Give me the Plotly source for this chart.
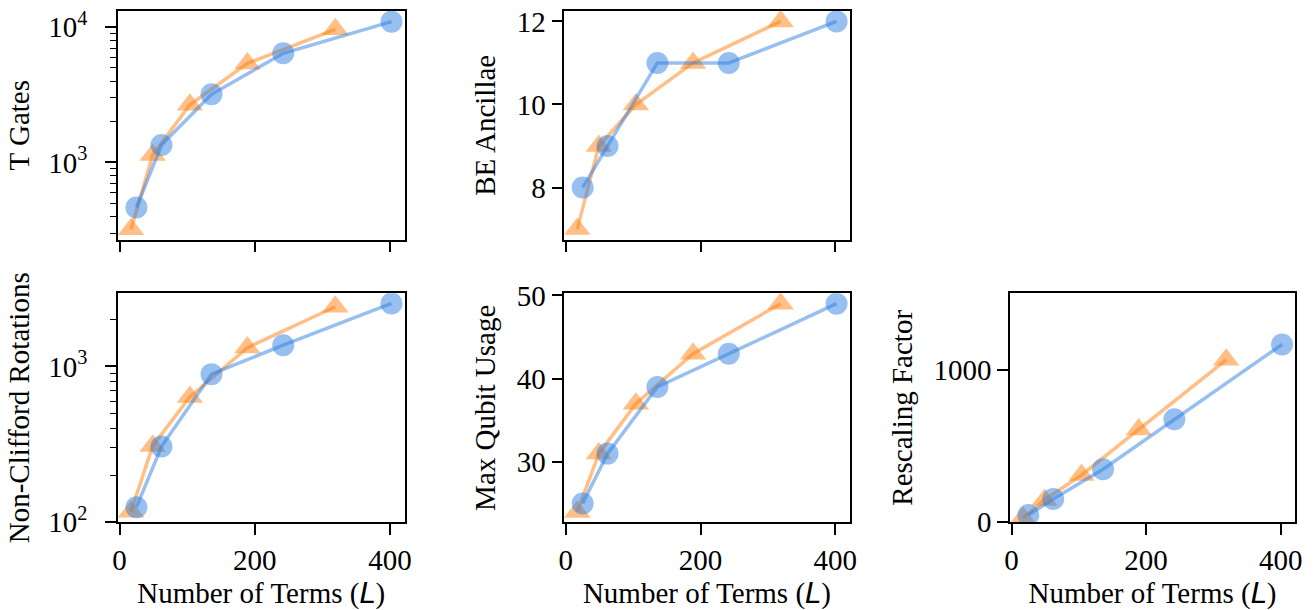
import plotly.graph_objects as go

# ---- data ----
x_blue = [25, 62, 136, 242, 402]
x_orange = [17, 49, 104, 189, 319]

tgates_blue = [464, 1344, 3190, 6410, 11000]
tgates_orange = [320, 1133, 2670, 5400, 9660]

be_blue = [8, 9, 11, 11, 12]
be_orange = [7, 9, 10, 11, 12]

rot_blue = [125, 306, 892, 1368, 2535]
rot_orange = [117, 309, 637, 1320, 2415]

qubit_blue = [25, 31, 39, 43, 49]
qubit_orange = [24, 31, 37, 43, 49]

rescale_blue = [48, 152, 348, 675, 1165]
rescale_orange = [28, 146, 310, 608, 1064]

x_ticks = [0, 200, 400]

W, H = 1314, 610
FONT = "Liberation Serif"
FS = 29
BLUE_LINE = "rgba(47,128,224,0.5)"
BLUE_MK = "rgba(47,128,224,0.5)"
ORANGE_LINE = "rgba(255,127,14,0.5)"
ORANGE_MK = "rgba(255,127,14,0.5)"

# panel pixel boxes: (left, right, top, bottom)
cols = [(118, 404.5), (564.3, 849.5), (1010, 1295)]
rows = [(11, 239.5), (293.3, 522.3)]


def xdom(c):
    l, r = cols[c]
    return [l / W, r / W]


def ydom(r):
    t, b = rows[r]
    return [1 - b / H, 1 - t / H]


fig = go.Figure()

panels = [
    # (axis index, col, row, yb, yo)
    (1, 0, 0, tgates_blue, tgates_orange),
    (2, 1, 0, be_blue, be_orange),
    (3, 0, 1, rot_blue, rot_orange),
    (4, 1, 1, qubit_blue, qubit_orange),
    (5, 2, 1, rescale_blue, rescale_orange),
]

for idx, c, r, yb, yo in panels:
    suffix = "" if idx == 1 else str(idx)
    fig.add_trace(go.Scatter(
        x=x_orange, y=yo, mode="lines+markers",
        line=dict(color=ORANGE_LINE, width=3.5),
        marker=dict(symbol="triangle-up", size=23, color=ORANGE_MK, line=dict(width=0)),
        xaxis="x" + suffix, yaxis="y" + suffix, showlegend=False, cliponaxis=True,
    ))
    fig.add_trace(go.Scatter(
        x=x_blue, y=yb, mode="lines+markers",
        line=dict(color=BLUE_LINE, width=3.5),
        marker=dict(symbol="circle", size=22, color=BLUE_MK, line=dict(width=0)),
        xaxis="x" + suffix, yaxis="y" + suffix, showlegend=False, cliponaxis=True,
    ))

common_axis = dict(
    showline=True, mirror=True, linecolor="black", linewidth=1.6,
    ticks="outside", ticklen=11, tickwidth=1.6, tickcolor="black",
    showgrid=False, zeroline=False, automargin=False,
    tickfont=dict(family=FONT, size=FS, color="black"),
)

xtitle = "Number of Terms (<i><span style=\"font-family:DejaVu Sans\">L</span></i>)"

layout = dict(
    width=W, height=H,
    margin=dict(l=0, r=0, t=0, b=0),
    paper_bgcolor="white", plot_bgcolor="white",
    font=dict(family=FONT, size=FS, color="black"),
)

for idx, c, r, yb, yo in panels:
    suffix = "" if idx == 1 else str(idx)
    xa = dict(common_axis)
    xa.update(domain=xdom(c), anchor="y" + suffix, range=[-2.25, 421.25],
              tickmode="array", tickvals=x_ticks, ticktext=[str(v) for v in x_ticks])
    if r == 0:
        xa.update(showticklabels=False)
    else:
        xa.update(title=dict(text=xtitle, font=dict(family=FONT, size=FS), standoff=12))
    layout["xaxis" + suffix] = xa

minor_style = dict(ticks="outside", ticklen=6.5, tickwidth=1.2, tickcolor="black",
                   tickmode="array")

# y axes
ya1 = dict(common_axis)
ya1.update(domain=ydom(0), anchor="x", type="log", range=[2.43, 4.12],
           tickmode="array", tickvals=[1000, 10000],
           ticktext=["10<sup>3</sup>", "10<sup>4</sup>"], ticklabelstandoff=12,
           minor=dict(minor_style,
                      tickvals=[300, 400, 500, 600, 700, 800, 900,
                                2000, 3000, 4000, 5000, 6000, 7000, 8000, 9000]),
           title=dict(text="T Gates", font=dict(family=FONT, size=FS), standoff=10))
layout["yaxis"] = ya1

ya2 = dict(common_axis)
ya2.update(domain=ydom(0), anchor="x2", range=[6.75, 12.25],
           tickmode="array", tickvals=[8, 10, 12], ticktext=["8", "10", "12"],
           title=dict(text="BE Ancillae", font=dict(family=FONT, size=FS), standoff=13))
layout["yaxis2"] = ya2

ya3 = dict(common_axis)
ya3.update(domain=ydom(1), anchor="x3", type="log", range=[2.0, 3.469],
           tickmode="array", tickvals=[100, 1000],
           ticktext=["10<sup>2</sup>", "10<sup>3</sup>"], ticklabelstandoff=12,
           minor=dict(minor_style,
                      tickvals=[200, 300, 400, 500, 600, 700, 800, 900, 2000]),
           title=dict(text="Non-Clifford Rotations", font=dict(family=FONT, size=FS), standoff=10))
layout["yaxis3"] = ya3

ya4 = dict(common_axis)
ya4.update(domain=ydom(1), anchor="x4", range=[22.75, 50.25],
           tickmode="array", tickvals=[30, 40, 50], ticktext=["30", "40", "50"],
           title=dict(text="Max Qubit Usage", font=dict(family=FONT, size=FS), standoff=13))
layout["yaxis4"] = ya4

ya5 = dict(common_axis)
ya5.update(domain=ydom(1), anchor="x5", range=[0, 1500],
           tickmode="array", tickvals=[0, 1000], ticktext=["0", "1000"],
           title=dict(text="Rescaling Factor", font=dict(family=FONT, size=FS), standoff=12))
layout["yaxis5"] = ya5

fig.update_layout(**layout)
fig.write_html("out.html", config={"displayModeBar": False},
               post_script="document.body.style.margin='0px';document.body.style.overflow='hidden';")
